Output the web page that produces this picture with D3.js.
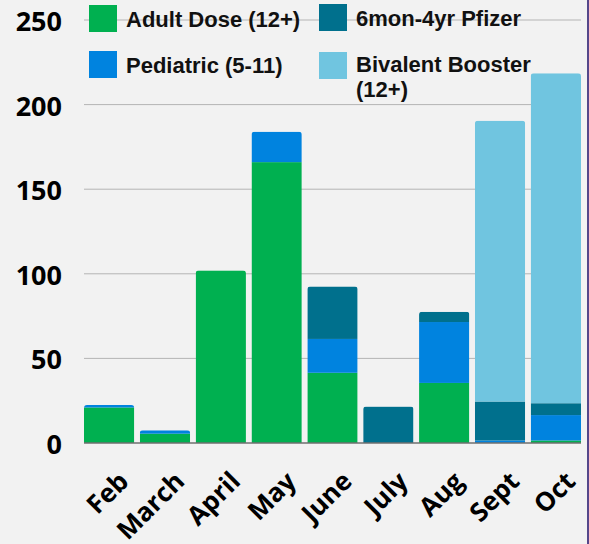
<!DOCTYPE html>
<html>
<head>
<meta charset="utf-8">
<script src="https://cdn.jsdelivr.net/npm/d3@7"></script>
<style>
  body { margin: 0; background: #f2f2f2; }
  svg { display: block; }
</style>
</head>
<body>
<svg id="chart" width="589" height="544"></svg>
<script>
// data
var months = ["Feb", "March", "April", "May", "June", "July", "Aug", "Sept", "Oct"];
var adult = [21, 5.5, 102, 166, 41.5, 0, 35.5, 0, 1.5];
var pediatric = [1.5, 2, 0, 18, 20, 0, 36, 1.5, 15];
var infant = [0, 0, 0, 0, 31, 21.5, 6, 23, 7];
var bivalent = [0, 0, 0, 0, 0, 0, 0, 166, 195];
var yTicks = [0, 50, 100, 150, 200, 250];

var seriesNames = ["Adult Dose (12+)", "Pediatric (5-11)", "6mon-4yr Pfizer", "Bivalent Booster"];
var seriesColors = ["#00b050", "#0083df", "#00708d", "#70c5e0"];
var keys = ["adult", "pediatric", "infant", "bivalent"];

var table = months.map(function(m, i) {
  return {month: m, adult: adult[i], pediatric: pediatric[i], infant: infant[i], bivalent: bivalent[i]};
});

var svg = d3.select("#chart");

var margin_l = 84, margin_r = 8, margin_t = 20, margin_b = 101;
var tickFont = "'Open Sans', 'Noto Sans', sans-serif";

// scales
var xScale = d3.scaleBand()
  .domain(months)
  .range([margin_l, 589 - margin_r])
  .paddingInner(0.1)
  .paddingOuter(0);

var yScale = d3.scaleLinear()
  .domain([0, 250])
  .range([544 - margin_b, margin_t]);

// gridlines
svg.append("g")
  .selectAll("line")
  .data(yTicks.slice(1))
  .enter().append("line")
  .attr("x1", margin_l)
  .attr("x2", 589 - margin_r)
  .attr("y1", function(d) { return yScale(d); })
  .attr("y2", function(d) { return yScale(d); })
  .attr("stroke", "#b4b4b4")
  .attr("stroke-width", 1);

// y labels
svg.append("g")
  .selectAll("text")
  .data(yTicks)
  .enter().append("text")
  .attr("x", 62)
  .attr("y", function(d) { return yScale(d) + 11; })
  .attr("text-anchor", "end")
  .style("font-family", tickFont)
  .style("font-weight", "bold")
  .style("font-size", "27px")
  .attr("fill", "#000")
  .text(function(d) { return d; });

// stacked bars
var stacked = d3.stack().keys(keys)(table);
var color = d3.scaleOrdinal().domain(keys).range(seriesColors);

var defs = svg.append("defs");
months.forEach(function(m, i) {
  var total = adult[i] + pediatric[i] + infant[i] + bivalent[i];
  defs.append("clipPath")
    .attr("id", "clip" + i)
    .append("rect")
    .attr("x", xScale(m))
    .attr("y", yScale(total))
    .attr("width", xScale.bandwidth())
    .attr("height", yScale(0) - yScale(total) + 10)
    .attr("rx", 3);
});

var bars = svg.append("g");
months.forEach(function(m, i) {
  var g = bars.append("g").attr("clip-path", "url(#clip" + i + ")");
  stacked.forEach(function(layer) {
    var d = layer[i];
    if (d[1] - d[0] <= 0) return;
    g.append("rect")
      .attr("x", xScale(m))
      .attr("y", yScale(d[1]))
      .attr("width", xScale.bandwidth())
      .attr("height", yScale(d[0]) - yScale(d[1]))
      .attr("fill", color(layer.key));
  });
});

// baseline
svg.append("line")
  .attr("x1", margin_l)
  .attr("x2", 589 - margin_r)
  .attr("y1", yScale(0))
  .attr("y2", yScale(0))
  .attr("stroke", "#6f6f6f")
  .attr("stroke-width", 1.5);

// x labels
svg.append("g")
  .selectAll("text")
  .data(months)
  .enter().append("text")
  .attr("transform", function(d) {
    return "translate(" + (xScale(d) + xScale.bandwidth() / 2 + 21) + "," + 483 + ") rotate(-45)";
  })
  .attr("text-anchor", "end")
  .style("font-family", tickFont)
  .style("font-weight", "bold")
  .style("font-size", "26px")
  .attr("fill", "#000")
  .text(function(d) { return d; });

// legend
var legendPos = [[89, 5, 126, 27], [89, 51, 126, 73], [319, 4, 356, 26], [319, 52, 356, 72]];
var legend = svg.append("g");
seriesNames.forEach(function(name, i) {
  var p = legendPos[i];
  legend.append("rect")
    .attr("x", p[0])
    .attr("y", p[1])
    .attr("width", 28)
    .attr("height", 27)
    .attr("fill", seriesColors[i]);
  var t = legend.append("text")
    .attr("x", p[2])
    .attr("y", p[3])
    .style("font-family", "'Liberation Sans', Arial, sans-serif")
    .style("font-weight", "bold")
    .style("font-size", "22px")
    .attr("fill", "#111");
  if (i === 3) {
    t.append("tspan").attr("x", p[2]).text(name);
    t.append("tspan").attr("x", p[2]).attr("dy", 25).text("(12+)");
  } else {
    t.text(name);
  }
});

// right edge border
svg.append("line")
  .attr("x1", 588)
  .attr("x2", 588)
  .attr("y1", 0)
  .attr("y2", 544)
  .attr("stroke", "#55478a")
  .attr("stroke-width", 2);
</script>
</body>
</html>
